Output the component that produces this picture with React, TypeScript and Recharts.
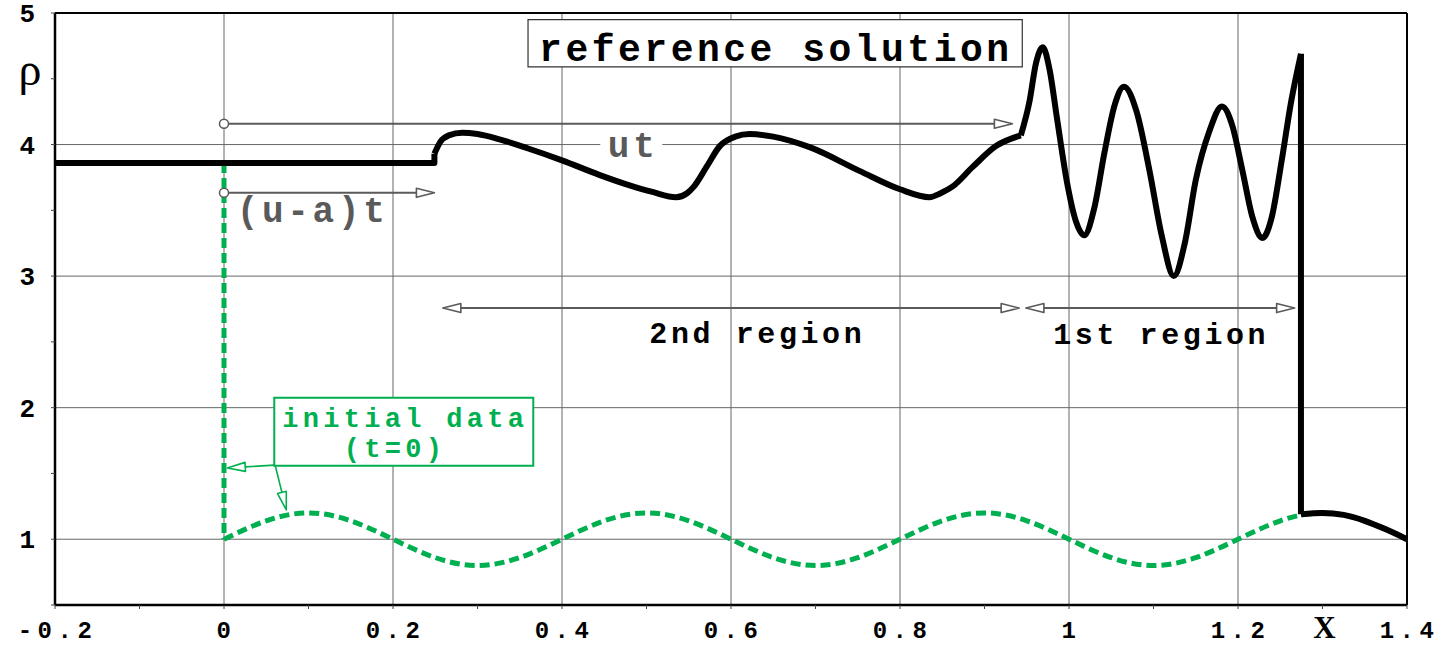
import React from 'react'
import {
  LineChart,
  Line,
  XAxis,
  YAxis,
  CartesianGrid,
  ReferenceLine,
  ReferenceArea,
  ReferenceDot,
} from 'recharts'

// reference solution (black)
const flatX = [-0.2, 0.249, 0.249]
const flatRho = [3.86, 3.86, 3.93]

const region2X = [
  0.249, 0.256, 0.266, 0.282, 0.3, 0.326, 0.36, 0.4, 0.444, 0.48, 0.507, 0.535,
  0.548, 0.556, 0.571, 0.587, 0.605, 0.622, 0.65, 0.693, 0.752, 0.8, 0.835,
  0.848, 0.862, 0.886, 0.914, 0.943,
]
const region2Rho = [
  3.93, 4.02, 4.07, 4.09, 4.08, 4.04, 3.97, 3.88, 3.77, 3.69, 3.64, 3.6, 3.63,
  3.68, 3.83, 3.99, 4.06, 4.08, 4.06, 3.98, 3.8, 3.66, 3.6, 3.63, 3.68, 3.83,
  3.99, 4.07,
]

const region1X = [
  0.943, 0.953, 0.961, 0.969, 0.977, 0.986, 0.998, 1.008, 1.018, 1.03, 1.042,
  1.054, 1.065, 1.08, 1.095, 1.11, 1.124, 1.137, 1.15, 1.166, 1.181, 1.193,
  1.205, 1.217, 1.229, 1.24, 1.252, 1.263, 1.2745,
]
const region1Rho = [
  4.07, 4.32, 4.62, 4.74, 4.57, 4.19, 3.7, 3.42, 3.31, 3.52, 3.94, 4.3, 4.44,
  4.25, 3.81, 3.3, 3.0, 3.25, 3.73, 4.1, 4.29, 4.15, 3.81, 3.45, 3.29, 3.45,
  3.89, 4.33, 4.69,
]

const shockX = [1.2745, 1.2745]
const shockRho = [4.69, 1.19]

const tailX = [1.2745, 1.3, 1.325, 1.35, 1.375, 1.4]
const tailRho = [1.19, 1.2, 1.185, 1.14, 1.075, 1.0]

// initial data (green dashed)
const initJumpX = [0, 0]
const initJumpRho = [3.86, 1.0]

const initX = [
  0, 0.05, 0.1, 0.15, 0.2, 0.25, 0.3, 0.35, 0.4, 0.45, 0.5, 0.55, 0.6, 0.65,
  0.7, 0.75, 0.8, 0.85, 0.9, 0.95, 1, 1.05, 1.1, 1.15, 1.2, 1.25, 1.3, 1.35, 1.4,
]
const initRho = [
  1, 1.14, 1.2, 1.14, 1, 0.86, 0.8, 0.86, 1, 1.14, 1.2, 1.14, 1, 0.86, 0.8,
  0.86, 1, 1.14, 1.2, 1.14, 1, 0.86, 0.8, 0.86, 1, 1.14, 1.2, 1.14, 1,
]

const xTicks = [
  -0.2, -0.1, 0, 0.1, 0.2, 0.3, 0.4, 0.5, 0.6, 0.7, 0.8, 0.9, 1, 1.1, 1.2, 1.3,
  1.4,
]
const xTickLabels = [
  '-0.2', '', '0', '', '0.2', '', '0.4', '', '0.6', '', '0.8', '', '1', '',
  '1.2', 'X', '1.4',
]
const yTicks = [0.5, 1, 1.5, 2, 2.5, 3, 3.5, 4, 4.5, 5]
const yTickLabels = ['', '1', '', '2', '', '3', '', '4', 'ρ', '5']

const gridX = [0, 0.2, 0.4, 0.6, 0.8, 1, 1.2]
const gridY = [1, 2, 3, 4]

const GREEN = '#00b050'
const GRAY = '#5a5a5a'
const MONO = "'Liberation Mono', 'DejaVu Sans Mono', monospace"
const SERIF = "'Liberation Serif', 'DejaVu Serif', serif"

const toPoints = (xs: number[], ys: number[]) =>
  xs.map((x, i) => ({ x, y: ys[i] }))

const findIdx = (list: number[], v: number) =>
  list.findIndex((t) => Math.abs(t - v) < 1e-6)

function XTick(props: any) {
  const { x, y, payload } = props
  const label = xTickLabels[findIdx(xTicks, payload.value)]
  if (!label) return <g />
  if (label === 'X') {
    return (
      <text x={x + 2} y={y + 27} textAnchor="middle" fontFamily={SERIF}
        fontWeight={700} fontSize={31} fill="#000">X</text>
    )
  }
  return (
    <text x={x + 2.5} y={y + 27} textAnchor="middle" fontFamily={MONO}
      fontWeight={700} fontSize={24} letterSpacing={5.5} fill="#000">
      {label}
    </text>
  )
}

function YTick(props: any) {
  const { x, y, payload } = props
  const label = yTickLabels[findIdx(yTicks, payload.value)]
  if (!label) return <g />
  if (label === 'ρ') {
    return (
      <text x={x - 19} y={y + 6} textAnchor="middle" fontFamily={SERIF}
        fontSize={46} fill="#000">ρ</text>
    )
  }
  return (
    <text x={x - 14} y={y + 9} textAnchor="end" fontFamily={MONO}
      fontWeight={700} fontSize={26} fill="#000">{label}</text>
  )
}

type ArrowOpts = {
  color: string
  width: number
  startDot?: boolean
  startHead?: boolean
  endHead?: boolean
}

function arrowShape(o: ArrowOpts) {
  return (p: any) => {
    const { x1, y1, x2, y2 } = p
    const dx = x2 - x1
    const dy = y2 - y1
    const d = Math.hypot(dx, dy) || 1
    const ux = dx / d
    const uy = dy / d
    const L = 18
    const H = 4.5
    const head = (tx: number, ty: number, vx: number, vy: number) => {
      const bx = tx - vx * L
      const by = ty - vy * L
      return (
        <polygon
          points={`${tx},${ty} ${bx - vy * H},${by + vx * H} ${bx + vy * H},${by - vx * H}`}
          fill="#fff" stroke={o.color} strokeWidth={1.6} strokeLinejoin="round"
        />
      )
    }
    const sx = o.startHead ? x1 + ux * L : x1
    const sy = o.startHead ? y1 + uy * L : y1
    const ex = o.endHead ? x2 - ux * L : x2
    const ey = o.endHead ? y2 - uy * L : y2
    return (
      <g>
        <line x1={sx} y1={sy} x2={ex} y2={ey} stroke={o.color} strokeWidth={o.width} />
        {o.endHead && head(x2, y2, ux, uy)}
        {o.startHead && head(x1, y1, -ux, -uy)}
        {o.startDot && (
          <circle cx={x1} cy={y1} r={4.5} fill="#fff" stroke={o.color} strokeWidth={1.5} />
        )}
      </g>
    )
  }
}

type TextOpts = { size: number; spacing: number; color: string; bg?: number }

function textShape(label: string, o: TextOpts) {
  return (p: any) => (
    <g>
      {o.bg ? (
        <rect x={p.cx - o.bg / 2} y={p.cy - o.size * 0.8} width={o.bg}
          height={o.size * 0.95} fill="#fff" />
      ) : null}
      <text x={p.cx + o.spacing / 2} y={p.cy} textAnchor="middle" fontFamily={MONO}
        fontWeight={700} fontSize={o.size} letterSpacing={o.spacing} fill={o.color}>
        {label}
      </text>
    </g>
  )
}

export default function App() {
  const lineBase = {
    dataKey: 'y',
    dot: false,
    activeDot: false,
    isAnimationActive: false,
  } as const

  return (
    <div style={{ position: 'absolute', left: 0, top: 0, background: '#fff' }}>
      <LineChart width={1454} height={646} margin={{ top: 13, right: 47, bottom: 0, left: 0 }}>
        <CartesianGrid stroke="#666" strokeWidth={1} verticalValues={gridX} horizontalValues={gridY} />
        <XAxis
          type="number"
          dataKey="x"
          domain={[-0.2, 1.4]}
          ticks={xTicks}
          interval={0}
          allowDataOverflow
          height={41}
          tickSize={4}
          axisLine={{ stroke: '#000', strokeWidth: 2.5 }}
          tickLine={{ stroke: '#444' }}
          tick={<XTick />}
        />
        <YAxis
          type="number"
          domain={[0.5, 5]}
          ticks={yTicks}
          interval={0}
          allowDataOverflow
          width={55}
          tickSize={4}
          axisLine={{ stroke: '#000', strokeWidth: 2.5 }}
          tickLine={{ stroke: '#444' }}
          tick={<YTick />}
        />

        <ReferenceLine y={5} stroke="#000" strokeWidth={2} />
        <ReferenceLine x={1.4} stroke="#000" strokeWidth={2} />

        <ReferenceArea x1={0.3598} x2={0.9447} y1={4.59} y2={4.95}
          fill="#fff" fillOpacity={1} stroke="#333" strokeWidth={1.2} />
        <ReferenceArea x1={0.0595} x2={0.366} y1={1.558} y2={2.075}
          fill="#fff" fillOpacity={1} stroke={GREEN} strokeWidth={2} />

        <Line {...lineBase} data={toPoints(initJumpX, initJumpRho)} type="linear"
          stroke={GREEN} strokeWidth={5} strokeDasharray="10 5" />
        <Line {...lineBase} data={toPoints(initX, initRho)} type="natural"
          stroke={GREEN} strokeWidth={5} strokeDasharray="10 5" />

        <Line {...lineBase} data={toPoints(flatX, flatRho)} type="linear"
          stroke="#000" strokeWidth={6} strokeLinejoin="round" />
        <Line {...lineBase} data={toPoints(region2X, region2Rho)} type="monotone"
          stroke="#000" strokeWidth={6} strokeLinejoin="round" />
        <Line {...lineBase} data={toPoints(region1X, region1Rho)} type="monotone"
          stroke="#000" strokeWidth={6} strokeLinejoin="round" />
        <Line {...lineBase} data={toPoints(shockX, shockRho)} type="linear"
          stroke="#000" strokeWidth={6} />
        <Line {...lineBase} data={toPoints(tailX, tailRho)} type="monotone"
          stroke="#000" strokeWidth={6} strokeLinejoin="round" />

        <ReferenceLine segment={[{ x: 0, y: 4.158 }, { x: 0.933, y: 4.158 }]}
          shape={arrowShape({ color: GRAY, width: 2, startDot: true, endHead: true })} />
        <ReferenceLine segment={[{ x: 0, y: 3.633 }, { x: 0.249, y: 3.633 }]}
          shape={arrowShape({ color: GRAY, width: 2, startDot: true, endHead: true })} />
        <ReferenceLine segment={[{ x: 0.259, y: 2.757 }, { x: 0.941, y: 2.757 }]}
          shape={arrowShape({ color: GRAY, width: 2, startHead: true, endHead: true })} />
        <ReferenceLine segment={[{ x: 0.949, y: 2.757 }, { x: 1.267, y: 2.757 }]}
          shape={arrowShape({ color: GRAY, width: 2, startHead: true, endHead: true })} />
        <ReferenceLine segment={[{ x: 0.0595, y: 1.563 }, { x: 0.0039, y: 1.542 }]}
          shape={arrowShape({ color: GREEN, width: 1.6, endHead: true })} />
        <ReferenceLine segment={[{ x: 0.0607, y: 1.558 }, { x: 0.0737, y: 1.223 }]}
          shape={arrowShape({ color: GREEN, width: 1.6, endHead: true })} />

        <ReferenceDot x={0.651} y={4.637} r={0}
          shape={textShape('reference solution', { size: 38, spacing: 3.5, color: '#000' })} />
        <ReferenceDot x={0.482} y={3.907} r={0}
          shape={textShape('ut', { size: 36, spacing: 3.7, color: GRAY, bg: 62 })} />
        <ReferenceDot x={0.1027} y={3.413} r={0}
          shape={textShape('(u-a)t', { size: 36, spacing: 3.7, color: GRAY })} />
        <ReferenceDot x={0.629} y={2.494} r={0}
          shape={textShape('2nd region', { size: 30, spacing: 3.6, color: '#000' })} />
        <ReferenceDot x={1.107} y={2.485} r={0}
          shape={textShape('1st region', { size: 30, spacing: 3.6, color: '#000' })} />
        <ReferenceDot x={0.212} y={1.854} r={0}
          shape={textShape('initial data', { size: 27, spacing: 4.3, color: GREEN })} />
        <ReferenceDot x={0.1998} y={1.626} r={0}
          shape={textShape('(t=0)', { size: 27, spacing: 4.3, color: GREEN })} />
      </LineChart>
    </div>
  )
}
